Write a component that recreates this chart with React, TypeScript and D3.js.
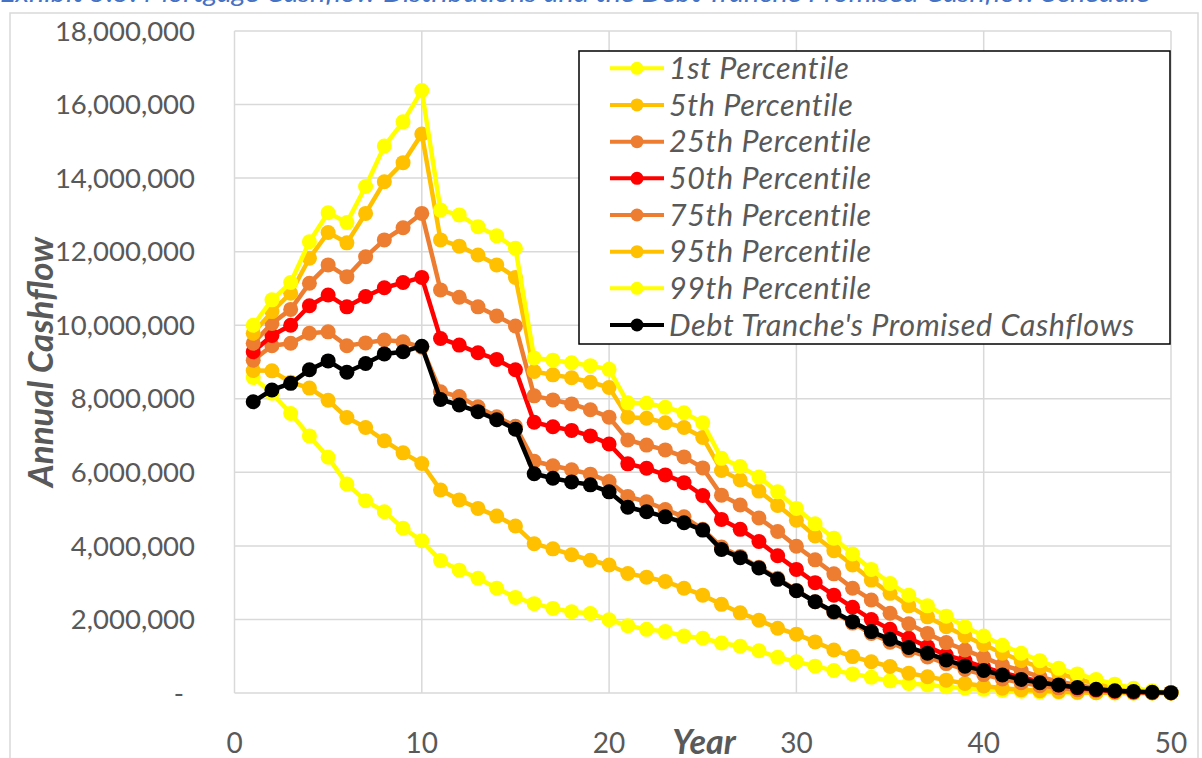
import React from "react";
import * as d3 from "d3";

const UNIT = 1e6;
const years = d3.range(1, 51);

const p1 = [8.58, 8.15, 7.6, 6.99, 6.41, 5.68, 5.23, 4.93, 4.48, 4.14,
  3.6, 3.34, 3.12, 2.85, 2.6, 2.43, 2.3, 2.21, 2.16, 1.99,
  1.83, 1.73, 1.67, 1.55, 1.49, 1.36, 1.27, 1.15, 0.97, 0.85,
  0.73, 0.61, 0.52, 0.43, 0.33, 0.26, 0.22, 0.17, 0.13, 0.1,
  0.07, 0.05, 0.03, 0.02, 0.01, 0.01, 0, 0, 0, 0];
const p5 = [8.77, 8.76, 8.45, 8.29, 7.96, 7.49, 7.22, 6.86, 6.53, 6.24,
  5.52, 5.25, 5.02, 4.81, 4.54, 4.06, 3.92, 3.76, 3.61, 3.48,
  3.25, 3.15, 3.03, 2.85, 2.66, 2.41, 2.18, 1.98, 1.76, 1.6,
  1.39, 1.17, 0.99, 0.85, 0.72, 0.54, 0.44, 0.35, 0.26, 0.19,
  0.13, 0.09, 0.06, 0.04, 0.02, 0.01, 0.01, 0, 0, 0];
const p25 = [9.05, 9.44, 9.51, 9.78, 9.82, 9.44, 9.52, 9.6, 9.55, 9.4,
  8.19, 8.06, 7.78, 7.51, 7.25, 6.3, 6.18, 6.07, 5.95, 5.75,
  5.34, 5.2, 4.99, 4.79, 4.45, 3.97, 3.71, 3.42, 3.12, 2.79,
  2.48, 2.19, 1.9, 1.62, 1.38, 1.16, 0.98, 0.8, 0.64, 0.5,
  0.38, 0.28, 0.2, 0.14, 0.09, 0.06, 0.04, 0.02, 0.01, 0];
const p50 = [9.28, 9.72, 10.0, 10.53, 10.82, 10.5, 10.78, 11.02, 11.16, 11.3,
  9.64, 9.46, 9.25, 9.07, 8.79, 7.36, 7.24, 7.14, 6.99, 6.77,
  6.23, 6.11, 5.93, 5.72, 5.37, 4.72, 4.45, 4.12, 3.73, 3.36,
  3.0, 2.66, 2.33, 2.0, 1.73, 1.49, 1.26, 1.03, 0.88, 0.7,
  0.55, 0.43, 0.31, 0.22, 0.14, 0.09, 0.05, 0.03, 0.02, 0.01];
const p75 = [9.51, 10.05, 10.43, 11.14, 11.64, 11.32, 11.86, 12.32, 12.65, 13.04,
  10.96, 10.76, 10.5, 10.25, 9.98, 8.08, 7.97, 7.86, 7.7, 7.5,
  6.88, 6.74, 6.61, 6.42, 6.12, 5.38, 5.11, 4.76, 4.39, 3.99,
  3.62, 3.24, 2.85, 2.53, 2.17, 1.88, 1.62, 1.37, 1.17, 0.97,
  0.76, 0.61, 0.44, 0.31, 0.22, 0.13, 0.08, 0.05, 0.02, 0.01];
const p95 = [9.78, 10.37, 10.87, 11.82, 12.52, 12.24, 13.04, 13.9, 14.42, 15.2,
  12.32, 12.15, 11.91, 11.64, 11.3, 8.74, 8.65, 8.57, 8.45, 8.31,
  7.5, 7.47, 7.35, 7.22, 6.95, 6.05, 5.79, 5.49, 5.1, 4.7,
  4.27, 3.87, 3.48, 3.07, 2.71, 2.37, 2.07, 1.8, 1.55, 1.31,
  1.08, 0.88, 0.7, 0.54, 0.37, 0.26, 0.17, 0.08, 0.03, 0.01];
const p99 = [10.0, 10.69, 11.16, 12.27, 13.06, 12.79, 13.77, 14.87, 15.53, 16.38,
  13.13, 13.0, 12.68, 12.43, 12.09, 9.11, 9.05, 8.98, 8.9, 8.8,
  7.89, 7.88, 7.77, 7.62, 7.35, 6.38, 6.16, 5.87, 5.47, 5.02,
  4.6, 4.21, 3.78, 3.36, 2.98, 2.66, 2.37, 2.09, 1.8, 1.55,
  1.3, 1.08, 0.88, 0.67, 0.52, 0.37, 0.24, 0.13, 0.06, 0.01];
const debt = [7.92, 8.24, 8.42, 8.79, 9.03, 8.72, 8.96, 9.22, 9.28, 9.43,
  7.98, 7.83, 7.65, 7.43, 7.17, 5.96, 5.84, 5.74, 5.66, 5.47,
  5.05, 4.93, 4.79, 4.63, 4.43, 3.9, 3.68, 3.4, 3.09, 2.78,
  2.48, 2.21, 1.94, 1.67, 1.46, 1.24, 1.08, 0.9, 0.73, 0.61,
  0.49, 0.37, 0.28, 0.22, 0.15, 0.1, 0.06, 0.04, 0.02, 0.01];

const seriesNames = ["1st Percentile", "5th Percentile", "25th Percentile", "50th Percentile",
  "75th Percentile", "95th Percentile", "99th Percentile", "Debt Tranche's Promised Cashflows"];
const seriesValues = [p1, p5, p25, p50, p75, p95, p99, debt];
const seriesColors = ["#FFFF00", "#FFC000", "#ED7D31", "#FF0000", "#ED7D31", "#FFC000", "#FFFF00", "#000000"];

const yTicks = d3.range(0, 18000001, 2000000);
const xTicks = [0, 10, 20, 30, 40, 50];
const titleText = "Exhibit 5.5: Mortgage Cashflow Distributions and the Debt Tranche Promised Cashflow Schedule";

export default function App() {
  const x = d3.scaleLinear().domain([0, 50]).range([234.5, 1171]);
  const y = d3.scaleLinear().domain([0, 18000000]).range([693, 31]);
  const line = d3.line<[number, number]>().x(d => x(d[0])).y(d => y(d[1]));
  const fmt = d3.format(",");
  const gray = "#595959";
  const font = "Lato, 'Open Sans', sans-serif";

  return (
    <svg width={1202} height={758} style={{ position: "absolute", left: 0, top: 0, display: "block" }}
      fontFamily={font}>
      <rect x={0} y={0} width={1202} height={758} fill="#fff" />
      <text x={0} y={2} fontSize={26} fontStyle="italic" fill="#4472C4" textLength={1150}
        lengthAdjust="spacingAndGlyphs">{titleText}</text>
      <rect x={10} y={13} width={1188} height={760} fill="none" stroke="#D9D9D9" strokeWidth={1.5} />
      {/* gridlines */}
      {yTicks.map(t => (
        <line key={"gy" + t} x1={x(0)} x2={x(50)} y1={y(t)} y2={y(t)} stroke="#D9D9D9" strokeWidth={1.5} />
      ))}
      {xTicks.map(t => (
        <line key={"gx" + t} x1={x(t)} x2={x(t)} y1={y(0)} y2={y(18000000)} stroke="#D9D9D9" strokeWidth={1.5} />
      ))}
      {/* y tick labels */}
      {yTicks.map(t => (
        <text key={"ty" + t} x={t === 0 ? 184 : 195} y={y(t)} dy="0.35em" textAnchor="end" fontSize={27.5}
          fill={gray}>{t === 0 ? "-" : fmt(t)}</text>
      ))}
      {xTicks.map(t => (
        <text key={"tx" + t} x={x(t)} y={743} dy="0.35em" textAnchor="middle" fontSize={28} fill={gray}>{t}</text>
      ))}
      <text x={704} y={754} textAnchor="middle" fontSize={34} fontWeight="bold" fontStyle="italic" fill={gray}>Year</text>
      <text transform="translate(53,362) rotate(-90)" textAnchor="middle" fontSize={35} fontWeight="bold"
        fontStyle="italic" fill={gray}>Annual Cashflow</text>
      {/* series */}
      {seriesValues.map((vals, i) => {
        const pts: [number, number][] = vals.map((v, j) => [years[j], v * UNIT]);
        return (
          <g key={"s" + i}>
            <path d={line(pts) || ""} fill="none" stroke={seriesColors[i]} strokeWidth={4.5} strokeLinejoin="round" />
            {pts.map((p, j) => (
              <circle key={j} cx={x(p[0])} cy={y(p[1])} r={7.5} fill={seriesColors[i]} />
            ))}
          </g>
        );
      })}
      {/* legend */}
      <rect x={579} y={51} width={591} height={293} fill="#fff" stroke="#000" strokeWidth={1.5} />
      {seriesNames.map((n, i) => {
        const cy = 68.3 + i * 36.67;
        return (
          <g key={"l" + i}>
            <line x1={610} x2={664} y1={cy} y2={cy} stroke={seriesColors[i]} strokeWidth={4} />
            <circle cx={637} cy={cy} r={6.5} fill={seriesColors[i]} />
            <text x={669} y={cy} dy="0.35em" fontSize={30.5} letterSpacing={0.6} fontStyle="italic"
              fill={gray}>{n}</text>
          </g>
        );
      })}
    </svg>
  );
}
